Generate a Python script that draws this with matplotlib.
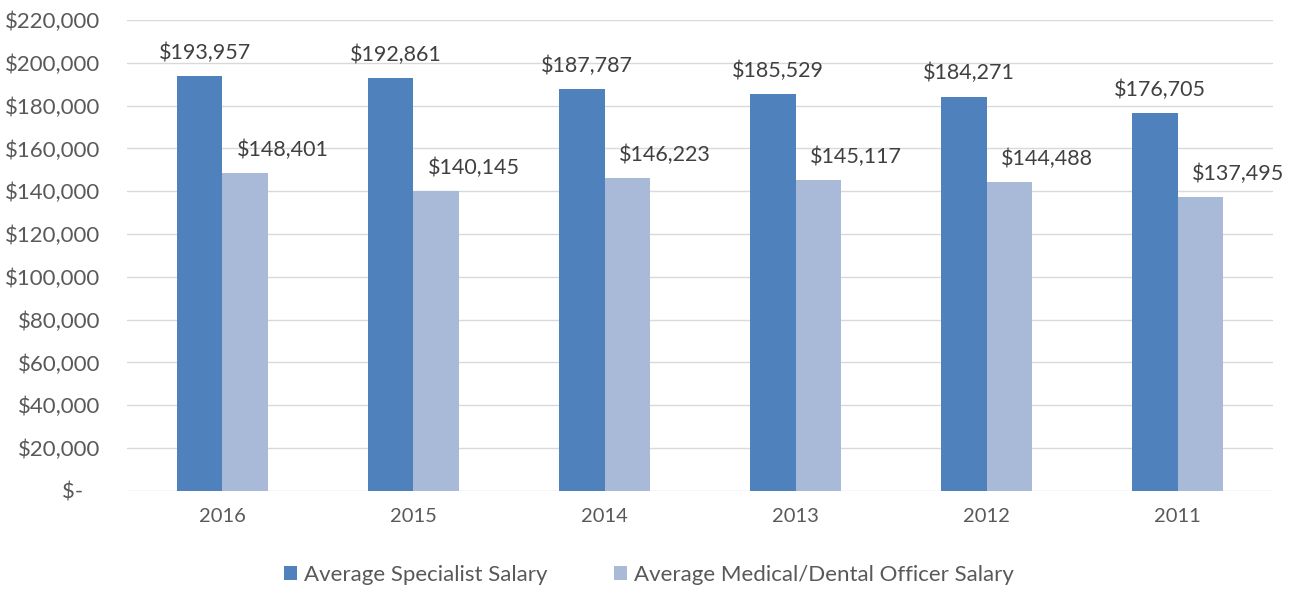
import numpy as np
import matplotlib.pyplot as plt
from matplotlib.ticker import FuncFormatter

# Data
years = ["2016", "2015", "2014", "2013", "2012", "2011"]
specialist = [193957, 192861, 187787, 185529, 184271, 176705]
medical = [148401, 140145, 146223, 145117, 144488, 137495]
series_names = ["Average Specialist Salary", "Average Medical/Dental Officer Salary"]

c_spec = "#4f81bd"
c_med = "#a9b9d8"
txt = "#595959"

plt.rcParams['font.family'] = ['Lato', 'DejaVu Sans']

fig = plt.figure(figsize=(12.98, 5.90), dpi=100)
ax = fig.add_axes([0.0978, 0.168, 0.883, 0.798])

x = np.arange(len(years))
w = 0.236
b1 = ax.bar(x - w / 2, specialist, w, color=c_spec, label=series_names[0], zorder=3)
b2 = ax.bar(x + w / 2, medical, w, color=c_med, label=series_names[1], zorder=3)

for xi, v in zip(x, specialist):
    ax.annotate(f"${v:,}", (xi - w / 2, v), xytext=(5, 13), textcoords="offset pixels",
                ha="center", va="bottom", fontsize=15.5, color="#404040")
for xi, v in zip(x, medical):
    ax.annotate(f"${v:,}", (xi + w / 2, v), xytext=(38, 13), textcoords="offset pixels",
                ha="center", va="bottom", fontsize=15.5, color="#404040")

ax.set_xlim(-0.5, len(years) - 0.5)
ax.set_ylim(0, 220000)
ax.set_yticks(np.arange(0, 220001, 20000))
# accounting style: zero shown as "$-" a little left of the other labels
ax.yaxis.set_major_formatter(FuncFormatter(lambda v, p: "$-   " if v == 0 else f"${v:,.0f}"))
ax.set_xticks(x)
ax.set_xticklabels(years)
ax.tick_params(axis="both", length=0, labelsize=14.5, colors=txt)
ax.tick_params(axis="x", pad=12)
ax.tick_params(axis="y", pad=19, labelsize=16)
ax.grid(axis="y", color="#d9d9d9", linewidth=1, zorder=0)
for s in ax.spines.values():
    s.set_visible(False)

fig.legend(handles=[b1, b2], loc="center", bbox_to_anchor=(0.5, 0.026), ncol=2,
           frameon=False, fontsize=16, labelcolor=txt, handlelength=0.6,
           handleheight=0.6, columnspacing=3, handletextpad=0.3)

fig.savefig("out.png", dpi=100)
